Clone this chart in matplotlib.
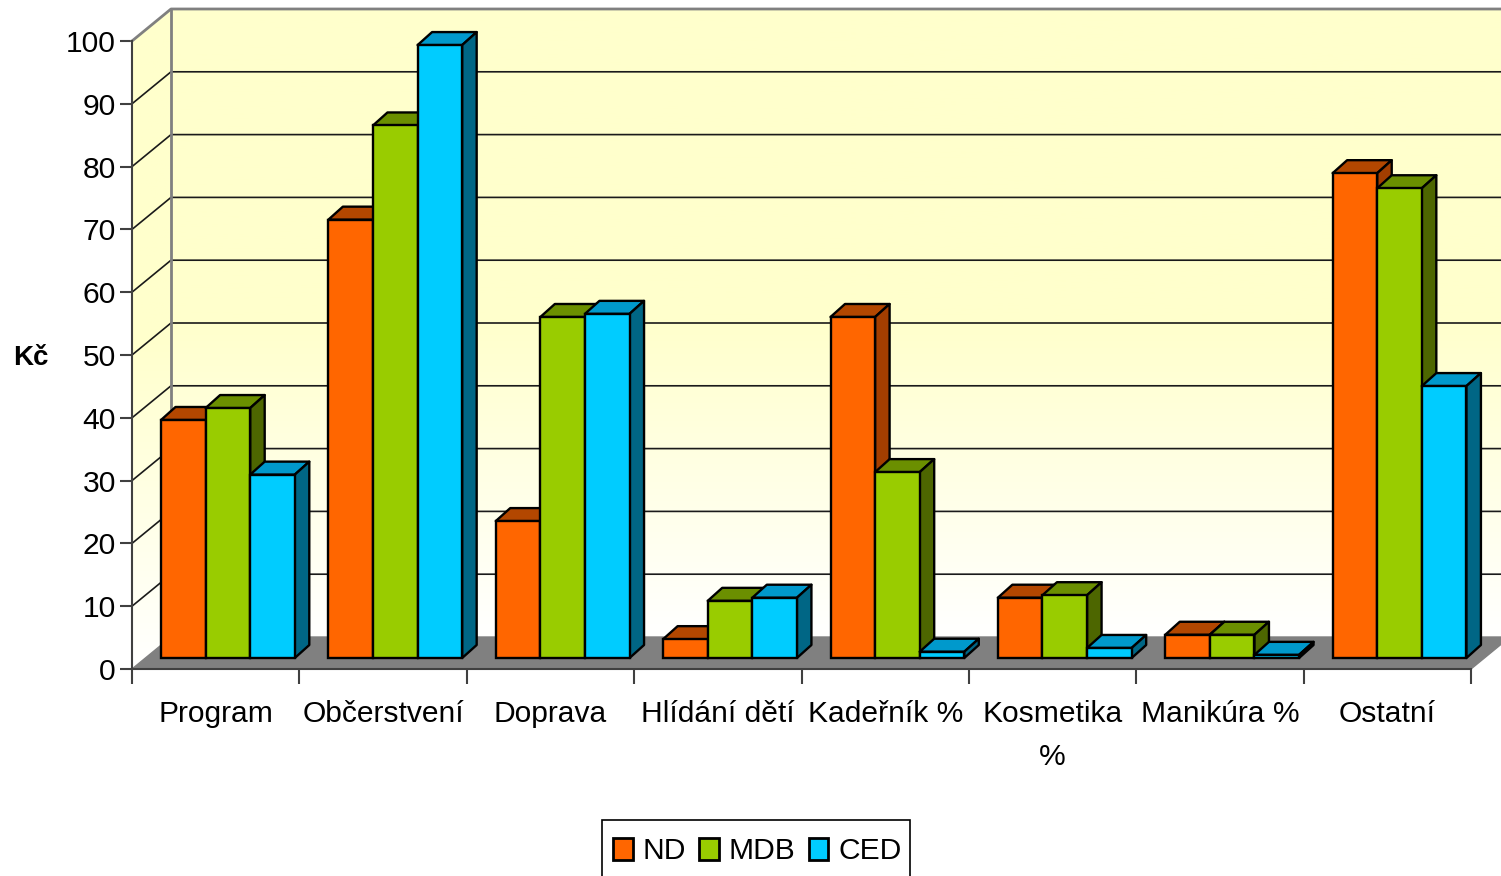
import numpy as np
import matplotlib
matplotlib.use('Agg')
from matplotlib import pyplot as plt
from matplotlib.patches import Polygon, Patch, Rectangle
from matplotlib.colors import LinearSegmentedColormap

plt.rcParams['font.family'] = ['Liberation Sans', 'DejaVu Sans']

categories = ['Program', 'Občerstvení', 'Doprava', 'Hlídání dětí', 'Kadeřník %',
              'Kosmetika\n%', 'Manikúra %', 'Ostatní']
series_names = ['ND', 'MDB', 'CED']
nd = [37.9, 69.8, 21.8, 3.0, 54.3, 9.6, 3.7, 77.2]
mdb = [39.8, 84.8, 54.3, 9.1, 29.6, 10.0, 3.7, 74.8]
ced = [29.2, 97.6, 54.8, 9.6, 1.0, 1.6, 0.5, 43.3]
y_ticks = [0, 10, 20, 30, 40, 50, 60, 70, 80, 90, 100]

front_colors = ['#FF6600', '#99CC00', '#00CCFF']
top_colors = ['#B34700', '#6B8F00', '#0099CC']
side_colors = ['#A33E00', '#4D6600', '#006685']

W, H = 1501, 876
px_x = 8 / 1339.0   # one pixel in x data units
px_y = 100 / 628.0  # one pixel in y data units
wall_dx = 39 * px_x
wall_dy = 32 * px_y
bar_dx = 14.5 * px_x
bar_dy = 13 * px_y
bar_w = 44.6 * px_x
bar_start = 29 * px_x
bar_lift = 11 * px_y

fig = plt.figure(figsize=(W / 100, H / 100), dpi=100)
ax = fig.add_axes([132 / W, 1 - 669 / H, 1339 / W, 628 / H])

# walls
cmap = LinearSegmentedColormap.from_list('wall', ['#FFFFCC', '#FFFFCC', '#FFFFFF'])
grad = np.linspace(0, 1, 256).reshape(-1, 1)
ax.imshow(grad, cmap=cmap, aspect='auto', zorder=1, clip_on=False,
          extent=(wall_dx, 8 + wall_dx, wall_dy, 100 + wall_dy))
side_wall = Polygon([(0, 0), (wall_dx, wall_dy), (wall_dx, 100 + wall_dy), (0, 100)],
                    closed=True, fc='none', ec='none', transform=ax.transData, clip_on=False)
ax.add_patch(side_wall)
im = ax.imshow(grad, cmap=cmap, aspect='auto', zorder=1,
               extent=(0, wall_dx, 0, 100 + wall_dy))
im.set_clip_box(fig.bbox)
im.set_clip_path(side_wall)

# floor
ax.add_patch(Polygon([(0, 0), (wall_dx, wall_dy), (8 + wall_dx, wall_dy), (8, 0)],
                     closed=True, fc='#808080', ec='#808080', lw=1, zorder=2, clip_on=False))

# gridlines
for v in y_ticks[1:-1]:
    ax.plot([0, wall_dx, 8 + wall_dx], [v, v + wall_dy, v + wall_dy], color='#1a1a1a',
            lw=1.2, zorder=3, clip_on=False)
ax.plot([0, wall_dx, 8 + wall_dx], [100, 100 + wall_dy, 100 + wall_dy], color='#808080',
        lw=2, zorder=3, clip_on=False)
ax.plot([wall_dx, wall_dx], [wall_dy, 100 + wall_dy], color='#808080', lw=2, zorder=3,
        clip_on=False)

# bars
z = 4
for i in range(len(categories)):
    for j, vals in enumerate([nd, mdb, ced]):
        v = vals[i]
        x0 = i + bar_start + j * bar_w
        x1 = x0 + bar_w
        y0 = bar_lift
        y1 = bar_lift + v
        ax.add_patch(Polygon([(x0, y1), (x0 + bar_dx, y1 + bar_dy), (x1 + bar_dx, y1 + bar_dy), (x1, y1)],
                             closed=True, fc=top_colors[j], ec='black', lw=1.7, zorder=z,
                             clip_on=False, joinstyle='round'))
        ax.add_patch(Polygon([(x1, y0), (x1 + bar_dx, y0 + bar_dy), (x1 + bar_dx, y1 + bar_dy), (x1, y1)],
                             closed=True, fc=side_colors[j], ec='black', lw=1.7, zorder=z,
                             clip_on=False, joinstyle='round'))
        ax.bar(x0, v, width=bar_w, bottom=y0, align='edge', color=front_colors[j],
               edgecolor='black', linewidth=1.7, zorder=z + 0.5, clip_on=False)
        z += 1

ax.set_xlim(0, 8)
ax.set_ylim(0, 100)
ax.patch.set_visible(False)
for s in ['top', 'right']:
    ax.spines[s].set_visible(False)
for s in ['left', 'bottom']:
    ax.spines[s].set_color('#404040')
    ax.spines[s].set_linewidth(1.5)
    ax.spines[s].set_zorder(3.5)

ax.set_yticks(y_ticks)
ax.set_yticklabels([str(v) for v in y_ticks], fontsize=21.6, color='black')
ax.tick_params(axis='y', length=8.6, width=1.5, color='#404040', pad=3)
ax.set_xticks(np.arange(0, 9))
ax.set_xticklabels([])
ax.tick_params(axis='x', which='major', length=10.8, width=1.5, color='#404040')
ax.set_xticks(np.arange(8) + 0.5, minor=True)
ax.set_xticklabels(categories, minor=True, fontsize=21.6, linespacing=1.72)
ax.tick_params(axis='x', which='minor', length=0, pad=22)

fig.text(31 / W, 1 - 358 / H, 'Kč', fontsize=20, fontweight='bold', ha='center', va='center')

# legend box runs off the bottom of the picture
fig.add_artist(Rectangle((602 / W, 1 - 885 / H), 308 / W, 65 / H, transform=fig.transFigure,
                         fc='white', ec='black', lw=1.2))
handles = [Patch(fc=c, ec='black', lw=2) for c in front_colors]
leg = fig.legend(handles, series_names, ncols=3, loc='upper left',
                 bbox_to_anchor=(613 / W, 1 - 837 / H), bbox_transform=fig.transFigure,
                 fontsize=21.6, frameon=False, borderpad=0, borderaxespad=0, handlelength=0.65,
                 handleheight=0.75, handletextpad=0.33, columnspacing=0.45)

fig.savefig('out.png', dpi=100)
